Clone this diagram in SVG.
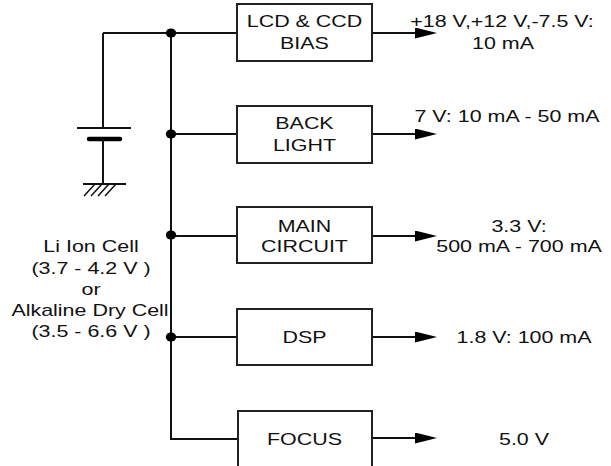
<svg xmlns="http://www.w3.org/2000/svg" width="611" height="466" viewBox="0 0 611 466">
<style>
.w{fill:none;stroke:#111;stroke-width:2}
.box{fill:#fff;stroke:#222;stroke-width:2}
.t{font-family:"Liberation Sans",Arial,sans-serif;font-size:16px;fill:#111;text-anchor:middle}
.dot{fill:#000}
</style>
<defs>
<marker id="ah" markerUnits="userSpaceOnUse" markerWidth="23" markerHeight="12" refX="5" refY="5.5" orient="auto" viewBox="0 0 23 12">
<path d="M0,0 L22,5.5 L0,11 z" fill="#000"/>
</marker>
</defs>
<g id="connectors">
<path class="w" d="M103,33 H237"/>
<path class="w" d="M103,33 V128"/>
<path class="w" d="M77,128 H131"/>
<path d="M89,139 H120" stroke="#000" stroke-width="4.5" stroke-linecap="round"/>
<path class="w" d="M103,139 V184"/>
<path class="w" d="M83,184 H126"/>
<path d="M84,196 L95,184 M91,196 L102,184 M98,196 L109,184 M105,196 L116,184" stroke="#111" stroke-width="1.5"/>
<path class="w" d="M171,33 V439 H238"/>
<path class="w" d="M171,134 H237"/>
<path class="w" d="M171,236 H237"/>
<path class="w" d="M171,337 H237"/>
<path class="w" d="M372,33 H420" marker-end="url(#ah)"/>
<path class="w" d="M372,134 H420" marker-end="url(#ah)"/>
<path class="w" d="M372,236 H420" marker-end="url(#ah)"/>
<path class="w" d="M372,337 H420" marker-end="url(#ah)"/>
<path class="w" d="M372,438 H420" marker-end="url(#ah)"/>
<ellipse class="dot" cx="171" cy="33" rx="5.2" ry="4.6"/>
<ellipse class="dot" cx="171" cy="134" rx="5.2" ry="4.6"/>
<ellipse class="dot" cx="171" cy="235" rx="5.2" ry="4.6"/>
<ellipse class="dot" cx="171" cy="337" rx="5.2" ry="4.6"/>
</g>
<g id="battery-label">
<text class="t" transform="translate(91,252) scale(1.34,1)">Li Ion Cell</text>
<text class="t" transform="translate(91,274) scale(1.34,1)">(3.7 - 4.2 V )</text>
<text class="t" transform="translate(91,295) scale(1.34,1)">or</text>
<text class="t" transform="translate(90,316) scale(1.34,1)">Alkaline Dry Cell</text>
<text class="t" transform="translate(91,337) scale(1.34,1)">(3.5 - 6.6 V )</text>
</g>
<g id="lcd">
<rect class="box" x="237" y="4" width="135" height="57"/>
<text class="t" transform="translate(304.5,27) scale(1.34,1)">LCD &amp; CCD</text>
<text class="t" transform="translate(304.5,49) scale(1.34,1)">BIAS</text>
<text class="t" transform="translate(502,27) scale(1.34,1)">+18 V,+12 V,-7.5 V:</text>
<text class="t" transform="translate(503,49) scale(1.34,1)">10 mA</text>
</g>
<g id="backlight">
<rect class="box" x="237" y="106" width="135" height="57"/>
<text class="t" transform="translate(304.5,129) scale(1.34,1)">BACK</text>
<text class="t" transform="translate(304.5,151) scale(1.34,1)">LIGHT</text>
<text class="t" transform="translate(507,122) scale(1.34,1)">7 V: 10 mA - 50 mA</text>
</g>
<g id="main">
<rect class="box" x="237" y="207" width="135" height="56"/>
<text class="t" transform="translate(304.5,232) scale(1.34,1)">MAIN</text>
<text class="t" transform="translate(304.5,252) scale(1.34,1)">CIRCUIT</text>
<text class="t" transform="translate(519,232) scale(1.34,1)">3.3 V:</text>
<text class="t" transform="translate(519,252) scale(1.34,1)">500 mA - 700 mA</text>
</g>
<g id="dsp">
<rect class="box" x="237" y="309" width="135" height="56"/>
<text class="t" transform="translate(304.5,343) scale(1.34,1)">DSP</text>
<text class="t" transform="translate(524,343) scale(1.34,1)">1.8 V: 100 mA</text>
</g>
<g id="focus">
<rect class="box" x="238" y="411" width="134" height="70"/>
<text class="t" transform="translate(304.5,445) scale(1.34,1)">FOCUS</text>
<text class="t" transform="translate(524,445) scale(1.34,1)">5.0 V</text>
</g>
</svg>
